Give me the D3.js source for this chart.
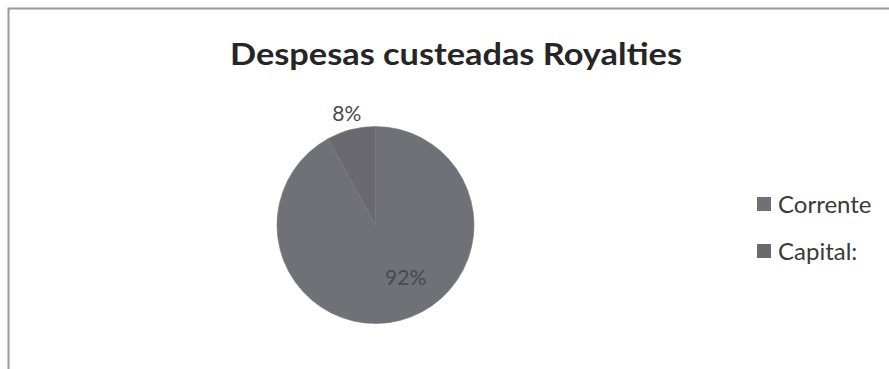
<!DOCTYPE html>
<meta charset="utf-8">
<script src="https://d3js.org/d3.v7.min.js"></script>
<style>
  body { margin: 0; background: #fff; }
</style>
<div id="my_dataviz"></div>
<script>

// slices, in Excel order (clockwise from 12 o'clock)
var categories = ["Corrente", "Capital:"]
var values = [92, 8]
var labels = ["92%", "8%"]
var colors = ["#707077", "#69696f"]

var width = 889
var height = 369

var svg = d3.select("#my_dataviz")
  .append("svg")
    .attr("width", width)
    .attr("height", height)

// chart frame (only left/top edges visible in the scan)
svg.append("rect")
  .attr("x", 8.5)
  .attr("y", 8.5)
  .attr("width", width + 10)
  .attr("height", height + 10)
  .attr("fill", "none")
  .attr("stroke", "#9a9a9a")
  .attr("stroke-width", 2)

// title
svg.append("text")
  .attr("x", 456)
  .attr("y", 65)
  .attr("text-anchor", "middle")
  .attr("textLength", 452)
  .attr("lengthAdjust", "spacingAndGlyphs")
  .style("font-family", "Lato, 'Open Sans', sans-serif")
  .style("font-weight", "bold")
  .style("font-size", "30px")
  .style("fill", "#262626")
  .text("Despesas custeadas Royalties")

var cx = 375.5, cy = 225, radius = 98.5

var g = svg.append("g")
  .attr("transform", "translate(" + cx + "," + cy + ")")

var data = categories.map(function(c, i) { return {key: c, value: values[i], label: labels[i], color: colors[i]} })

var pie = d3.pie()
  .value(function(d) { return d.value })
  .sort(null)

var arc = d3.arc()
  .innerRadius(0)
  .outerRadius(radius)

var arcs = pie(data)

g.selectAll("path")
  .data(arcs)
  .enter()
  .append("path")
    .attr("d", arc)
    .attr("fill", function(d) { return d.data.color })
    .attr("stroke", "#77777d")
    .attr("stroke-width", 0.6)

// labels: big slice inside (Excel nudges it right), small one outside
var inner = d3.arc().innerRadius(radius * 0.62).outerRadius(radius * 0.62)
var outer = d3.arc().innerRadius(radius * 1.17).outerRadius(radius * 1.17)

g.selectAll("text.lbl")
  .data(arcs)
  .enter()
  .append("text")
    .attr("class", "lbl")
    .attr("transform", function(d) {
      var p = d.data.value > 50 ? inner.centroid(d) : outer.centroid(d)
      var nudge = d.data.value > 50 ? 15 : 0
      return "translate(" + (p[0] + nudge) + "," + (p[1] - (d.data.value > 50 ? 7 : 0)) + ")"
    })
    .attr("dy", "0.35em")
    .attr("text-anchor", "middle")
    .style("font-family", "Lato, 'Open Sans', sans-serif")
    .style("font-size", "21px")
    .style("fill", "#4a4a4a")
    .text(function(d) { return d.data.label })

// legend
var legend = svg.append("g")
  .attr("transform", "translate(757,204)")

var items = legend.selectAll("g")
  .data(data)
  .enter()
  .append("g")
    .attr("transform", function(d, i) { return "translate(0," + i * 47 + ")" })

items.append("rect")
  .attr("x", 0)
  .attr("y", -7)
  .attr("width", 14)
  .attr("height", 14)
  .attr("fill", function(d) { return d.color })

items.append("text")
  .attr("x", 21)
  .attr("dy", "0.36em")
  .style("font-family", "Lato, 'Open Sans', sans-serif")
  .style("font-size", "24px")
  .style("fill", "#3a3a3a")
  .text(function(d) { return d.key })

</script>
